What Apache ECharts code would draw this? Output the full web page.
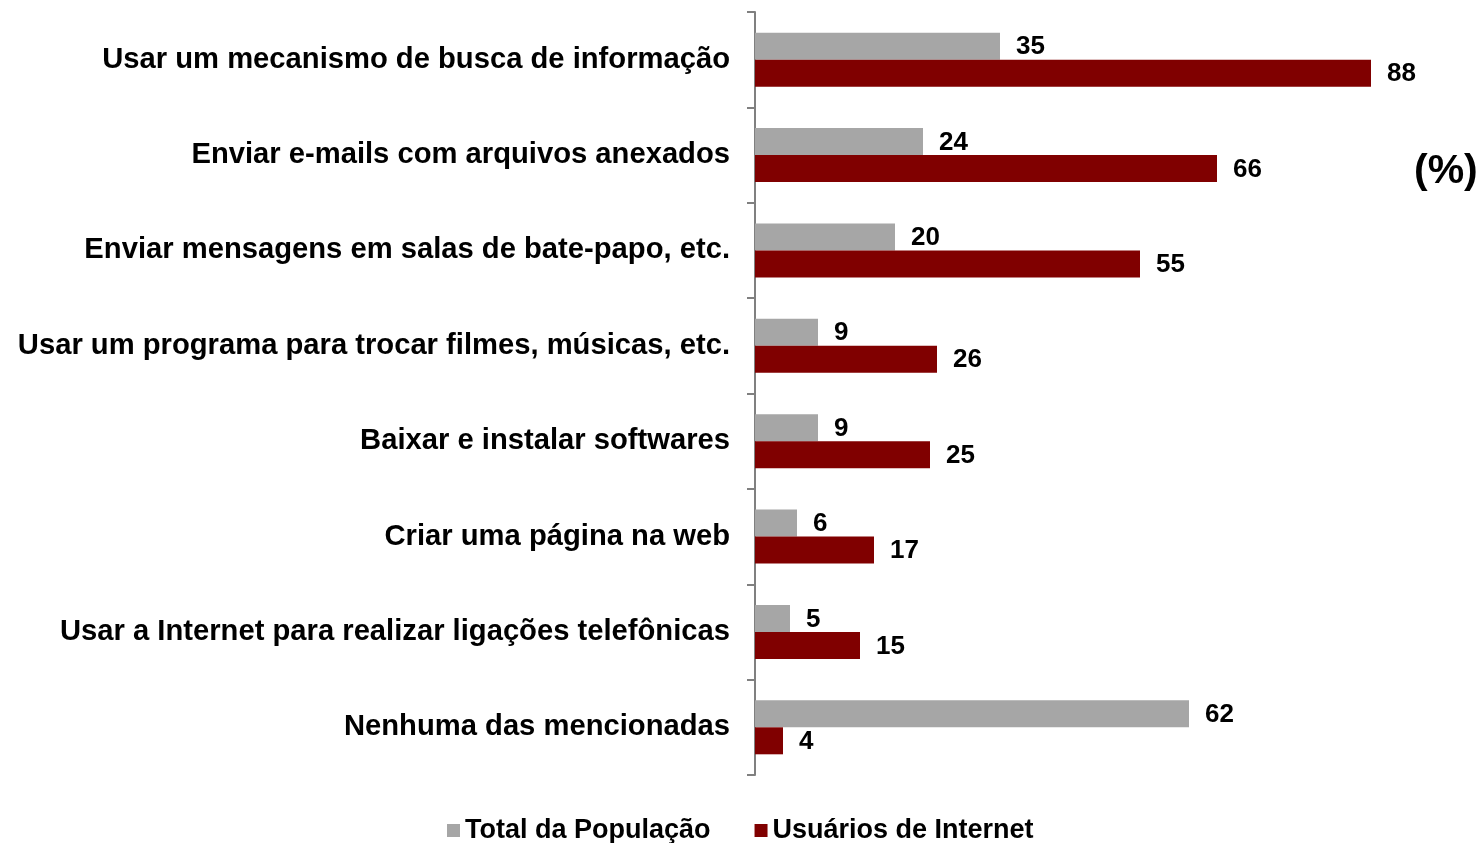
<!DOCTYPE html>
<html>
<head>
<meta charset="utf-8">
<script src="https://cdn.jsdelivr.net/npm/echarts@6/dist/echarts.min.js"></script>
<style>
  html, body { margin: 0; padding: 0; background: #fff; }
  #chart { width: 1479px; height: 843px; }
</style>
</head>
<body>
<div id="chart"></div>
<script>
const categories = [
  'Usar um mecanismo de busca de informação',
  'Enviar e-mails com arquivos anexados',
  'Enviar mensagens em salas de bate-papo, etc.',
  'Usar um programa para trocar filmes, músicas, etc.',
  'Baixar e instalar softwares',
  'Criar uma página na web',
  'Usar a Internet para realizar ligações telefônicas',
  'Nenhuma das mencionadas'
];
const totalPopulacao = [35, 24, 20, 9, 9, 6, 5, 62];
const usuariosInternet = [88, 66, 55, 26, 25, 17, 15, 4];

const font = 'Arial, "Liberation Sans", sans-serif';

let myChart = echarts.init(document.getElementById('chart'));

const valueLabel = {
  show: true,
  position: 'right',
  distance: 16,
  offset: [0, 1],
  color: '#000',
  fontWeight: 'bold',
  fontSize: 26,
  fontFamily: font
};

let option = {
  animation: false,
  grid: { left: 755, right: 24, top: 12, bottom: 68 },
  xAxis: {
    type: 'value',
    min: 0,
    max: 100,
    show: false
  },
  yAxis: {
    type: 'category',
    inverse: true,
    data: categories,
    axisLine: { lineStyle: { color: '#808080', width: 2 } },
    axisTick: { show: true, length: 8, lineStyle: { color: '#808080', width: 2 } },
    axisLabel: {
      margin: 25,
      padding: [8, 0, 0, 0],
      color: '#000',
      fontWeight: 'bold',
      fontSize: 29.2,
      fontFamily: font
    }
  },
  legend: {
    left: 442,
    top: 812,
    itemWidth: 13,
    itemHeight: 13,
    itemGap: 44,
    icon: 'rect',
    textStyle: { color: '#000', fontWeight: 'bold', fontSize: 27, fontFamily: font },
    data: ['Total da População', 'Usuários de Internet']
  },
  graphic: [{
    type: 'text',
    left: 1414,
    top: 151,
    style: { text: '(%)', fill: '#000', font: 'bold 41px ' + font }
  }],
  series: [
    {
      name: 'Total da População',
      type: 'bar',
      data: totalPopulacao,
      barWidth: 27,
      barGap: '0%',
      itemStyle: { color: '#A6A6A6' },
      label: valueLabel
    },
    {
      name: 'Usuários de Internet',
      type: 'bar',
      data: usuariosInternet,
      barWidth: 27,
      barGap: '0%',
      itemStyle: { color: '#800000' },
      label: valueLabel
    }
  ]
};

myChart.setOption(option);
</script>
</body>
</html>
